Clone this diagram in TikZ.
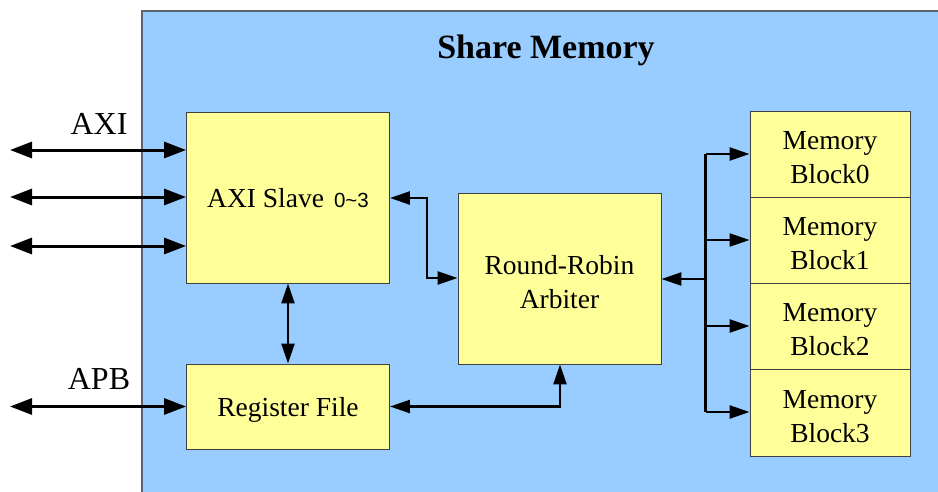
\documentclass[tikz,border=0pt]{standalone}
\usepackage{fontspec}
\setmainfont{Liberation Serif}
\setsansfont{Liberation Sans}
\usetikzlibrary{arrows.meta}
\definecolor{bluebg}{HTML}{99CCFF}
\definecolor{yel}{HTML}{FFFF99}
\definecolor{edgegray}{HTML}{5A6372}
\newcommand{\dntext}[2][-6pt]{\raisebox{#1}[\height][\depth]{\begin{tabular}{@{}c@{}}#2\end{tabular}}}
\begin{document}
\begin{tikzpicture}[x=1pt,y=-1pt,
 blk/.style={draw=black!75, line width=0.9pt, fill=yel, inner sep=0pt,
   font=\fontsize{27.5}{34}\selectfont},
 ext/.style={line width=3pt, {Triangle[length=22pt,width=16pt]}-{Triangle[length=22pt,width=16pt]}},
 both/.style={line width=2.4pt, {Triangle[length=20pt,width=13pt]}-{Triangle[length=20pt,width=13pt]}},
 one/.style={line width=2.4pt, -{Triangle[length=20pt,width=13pt]}},
 lbl/.style={inner sep=0pt, font=\fontsize{32}{38}\selectfont}]
\clip (0,0) rectangle (938,491);
\fill[white] (0,0) rectangle (938,491);
\draw[edgegray, line width=1.6pt, fill=bluebg] (142,11) rectangle (960,510);
\node[font=\bfseries\fontsize{34}{40}\selectfont] (title) at (546,50) {Share Memory};

\node[blk, minimum width=203pt, minimum height=171pt] (axi) at (288,197.5)
  {\dntext[-3pt]{AXI Slave\hspace{10pt}{\sffamily\fontsize{20.5}{24}\selectfont 0\textasciitilde 3}}};
\node[blk, minimum width=203pt, minimum height=85pt] (reg) at (288,406.5) {\dntext[-3pt]{Register File}};
\node[blk, minimum width=203pt, minimum height=171pt] (arb) at (559.5,278.5) {\dntext{Round-Robin\\Arbiter}};
\node[blk, minimum width=160pt, minimum height=86pt] (m0) at (830,154) {\dntext{Memory\\Block0}};
\node[blk, minimum width=160pt, minimum height=86pt] (m1) at (830,240) {\dntext{Memory\\Block1}};
\node[blk, minimum width=160pt, minimum height=86pt] (m2) at (830,326) {\dntext{Memory\\Block2}};
\node[blk, minimum width=160pt, minimum height=87pt] (m3) at (830,412.5) {\dntext{Memory\\Block3}};

\node[lbl] (axil) at (99,124) {AXI};
\node[lbl] (apbl) at (99,379) {APB};

\coordinate (e1) at (10,150);
\coordinate (e2) at (10,197);
\coordinate (e3) at (10,246);
\coordinate (e4) at (10,406.5);
\draw[ext] (e1) -- (e1 -| axi.west);
\draw[ext] (e2) -- (e2 -| axi.west);
\draw[ext] (e3) -- (e3 -| axi.west);
\draw[ext] (e4) -- (reg.west);

\coordinate (k1) at (427,198);
\coordinate (k2) at (427,278);
\draw[both] (axi.east |- k1) -- (k1) -- (k2) -- (arb.west |- k2);
\draw[both] (axi.south) -- (reg.north);
\coordinate (k3) at (560,406.5);
\draw[both] (reg.east) -- (k3) -- (arb.south -| k3);

\coordinate (bus) at (705.5,279);
\coordinate (bt) at (705.5,154);
\coordinate (bb) at (705.5,412);
\draw[line width=2.4pt, -{Triangle[length=20pt,width=13pt]}] (bus) -- (arb.east |- bus);
\draw[line width=2.4pt] (bt) -- (bb);
\draw[one] (bt) -- (m0.west);
\draw[one] (bus |- m1.west) -- (m1.west);
\draw[one] (bus |- m2.west) -- (m2.west);
\draw[one] (bb) -- (bb -| m3.west);
\end{tikzpicture}
\end{document}
